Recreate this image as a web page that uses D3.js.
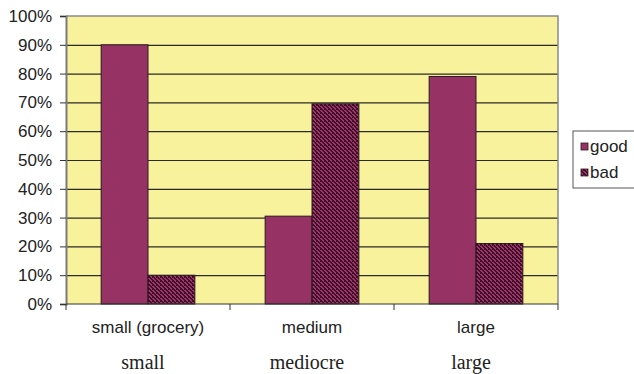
<!DOCTYPE html>
<html>
<head>
<meta charset="utf-8">
<script src="https://cdn.jsdelivr.net/npm/d3@7"></script>
<style>
  body { margin: 0; background: #fff; }
  svg { display: block; }
  text { font-family: "Liberation Sans", Arial, sans-serif; fill: #222; }
  .serif { font-family: "Liberation Serif", "Times New Roman", serif; }
</style>
</head>
<body>
<div id="chart"></div>
<script>
// data
const categories = ['small (grocery)', 'medium', 'large'];
const subLabels = ['small', 'mediocre', 'large'];
const series = ['good', 'bad'];
const good = [90, 30.5, 79];
const bad = [10, 69.5, 21];
const yTicks = [0, 10, 20, 30, 40, 50, 60, 70, 80, 90, 100];

const width = 634;
const height = 374;
const margin = { top: 16, right: 76, bottom: 70, left: 66 };

const rows = categories.map((c, i) => ({ cat: c, sub: subLabels[i], good: good[i], bad: bad[i] }));

const svg = d3.select('#chart').append('svg')
  .attr('width', width)
  .attr('height', height);

// hatch pattern for the "bad" bars
const defs = svg.append('defs');
const pat = defs.append('pattern')
  .attr('id', 'badfill')
  .attr('patternUnits', 'userSpaceOnUse')
  .attr('width', 4)
  .attr('height', 4);
pat.append('rect').attr('width', 4).attr('height', 4).attr('fill', '#3d1229');
[[0, 0, 2, 1], [1, 1, 1, 1], [2, 2, 2, 1], [3, 3, 1, 1], [0, 3, 1, 1]].forEach(([x, y, w, h]) => {
  pat.append('rect').attr('x', x).attr('y', y).attr('width', w).attr('height', h).attr('fill', '#a3356c');
});

const x = d3.scaleBand()
  .domain(categories)
  .range([margin.left, width - margin.right])
  .paddingInner(0)
  .paddingOuter(0);

const xs = d3.scaleBand()
  .domain(series)
  .range([0, x.bandwidth()])
  .paddingOuter(0.75)
  .paddingInner(0);

const y = d3.scaleLinear()
  .domain([0, 100])
  .range([height - margin.bottom, margin.top]);

// plot background
svg.append('rect')
  .attr('x', margin.left)
  .attr('y', margin.top)
  .attr('width', width - margin.left - margin.right)
  .attr('height', height - margin.top - margin.bottom)
  .attr('fill', '#f8f29c');

// gridlines
svg.append('g')
  .attr('class', 'grid')
  .attr('transform', `translate(${margin.left},0)`)
  .call(d3.axisLeft(y).tickValues(yTicks.slice(1, -1)).tickFormat('').tickSize(-(width - margin.left - margin.right)))
  .call(g => g.select('.domain').remove())
  .call(g => g.selectAll('line').attr('stroke', '#2b2b22').attr('stroke-width', 1.2));

// frame top / right
svg.append('path')
  .attr('d', `M${margin.left},${margin.top}H${width - margin.right}V${height - margin.bottom}`)
  .attr('fill', 'none')
  .attr('stroke', '#8a8a8a')
  .attr('stroke-width', 1.5);

// bars
const groups = svg.append('g').selectAll('g')
  .data(rows)
  .join('g')
  .attr('transform', d => `translate(${x(d.cat)},0)`);

groups.selectAll('rect')
  .data(d => series.map(s => ({ key: s, value: d[s] })))
  .join('rect')
  .attr('x', d => xs(d.key))
  .attr('y', d => y(d.value))
  .attr('width', xs.bandwidth())
  .attr('height', d => y(0) - y(d.value))
  .attr('fill', d => d.key === 'good' ? '#963264' : 'url(#badfill)')
  .attr('stroke', '#2a1a20')
  .attr('stroke-width', 1);

// y axis
svg.append('g')
  .attr('transform', `translate(${margin.left},0)`)
  .call(d3.axisLeft(y).tickValues(yTicks).tickFormat(d => d + '%').tickSize(6).tickPadding(8))
  .call(g => g.select('.domain').attr('stroke', '#7a7a7a').attr('stroke-width', 2))
  .call(g => g.selectAll('line').attr('stroke', '#333'))
  .call(g => g.selectAll('text').attr('font-size', 17).attr('font-family', null).attr('fill', '#222'));

// x axis with ticks between categories
const xAxisG = svg.append('g')
  .attr('transform', `translate(0,${height - margin.bottom})`);
xAxisG.append('line')
  .attr('x1', margin.left)
  .attr('x2', width - margin.right)
  .attr('stroke', '#333')
  .attr('stroke-width', 1.2);
xAxisG.selectAll('.tk')
  .data(categories.concat(['end']))
  .join('line')
  .attr('class', 'tk')
  .attr('x1', (d, i) => i < categories.length ? x(d) : x(categories[categories.length - 1]) + x.bandwidth())
  .attr('x2', (d, i) => i < categories.length ? x(d) : x(categories[categories.length - 1]) + x.bandwidth())
  .attr('y1', 0)
  .attr('y2', 6)
  .attr('stroke', '#333');

xAxisG.selectAll('.lab')
  .data(rows)
  .join('text')
  .attr('class', 'lab')
  .attr('x', d => x(d.cat) + x.bandwidth() / 2)
  .attr('y', 29)
  .attr('text-anchor', 'middle')
  .attr('font-size', 17)
  .text(d => d.cat);

xAxisG.selectAll('.sub')
  .data(rows)
  .join('text')
  .attr('class', 'sub serif')
  .attr('x', d => x(d.cat) + x.bandwidth() / 2 - 5)
  .attr('y', 65)
  .attr('text-anchor', 'middle')
  .attr('font-size', 20)
  .text(d => d.sub);

// legend
const legend = svg.append('g').attr('transform', 'translate(573,131)');
legend.append('rect')
  .attr('width', 70)
  .attr('height', 57)
  .attr('fill', '#fff')
  .attr('stroke', '#555')
  .attr('stroke-width', 1);
const li = legend.selectAll('g')
  .data(series)
  .join('g')
  .attr('transform', (d, i) => `translate(8,${12 + i * 26})`);
li.append('rect')
  .attr('width', 7)
  .attr('height', 7)
  .attr('fill', d => d === 'good' ? '#963264' : 'url(#badfill)')
  .attr('stroke', '#2a1a20')
  .attr('stroke-width', 0.8);
li.append('text')
  .attr('x', 9)
  .attr('y', 9)
  .attr('font-size', 17)
  .text(d => d);
</script>
</body>
</html>
